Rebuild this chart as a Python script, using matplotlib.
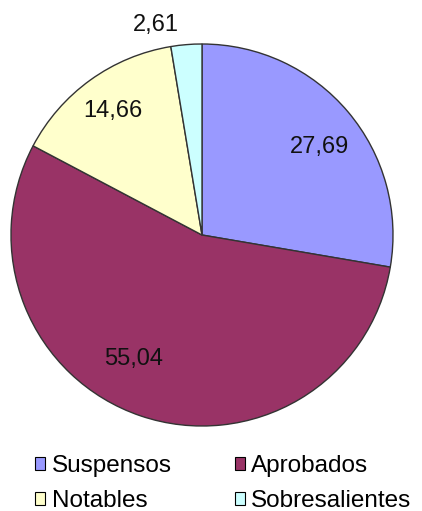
import numpy as np
import matplotlib
matplotlib.use("Agg")
import matplotlib.pyplot as plt
from matplotlib.patches import Patch

categorias = ["Suspensos", "Aprobados", "Notables", "Sobresalientes"]
valores = [27.69, 55.04, 14.66, 2.61]
etiquetas = ["27,69", "55,04", "14,66", "2,61"]
colores = ["#9999FF", "#993366", "#FFFFCC", "#CCFFFF"]

# posicion de las etiquetas: distancia relativa al radio y giro en grados
dist_etiqueta = [0.77, 0.74, 0.80, 1.125]
giro_etiqueta = [-3.5, -10, 0, 7.7]

plt.rcParams["font.family"] = ["Liberation Sans", "DejaVu Sans"]

fig = plt.figure(figsize=(4.22, 5.11), dpi=100)
ax = fig.add_axes([0, 0, 1, 1])

cx, cy, R = 202, 511 - 235, 191
wedges, _ = ax.pie(valores, colors=colores, startangle=90, counterclock=False,
                   center=(cx, cy), radius=R, frame=True,
                   wedgeprops=dict(edgecolor="#333333", linewidth=1.0))
ax.set_xlim(0, 422)
ax.set_ylim(0, 511)
ax.set_aspect("equal")
ax.axis("off")

for w, txt, d, g in zip(wedges, etiquetas, dist_etiqueta, giro_etiqueta):
    ang = np.deg2rad((w.theta1 + w.theta2) / 2 + g)
    ax.text(cx + d * R * np.cos(ang), cy + d * R * np.sin(ang), txt,
            ha="center", va="center", fontsize=17, color="#111111")

# matplotlib llena la leyenda por columnas, reordenar para que vaya por filas
orden = [0, 2, 1, 3]
handles = [Patch(facecolor=colores[i], edgecolor="black", linewidth=0.8) for i in orden]
nombres = [categorias[i] for i in orden]
fig.legend(handles, nombres, loc="lower left", bbox_to_anchor=(0.072, -0.012),
           ncol=2, frameon=False, fontsize=17.5, handlelength=0.42, handleheight=0.42,
           handletextpad=0.25, columnspacing=2.6, labelspacing=0.55,
           borderaxespad=0, borderpad=0.2)

fig.savefig("out.png", dpi=100)
